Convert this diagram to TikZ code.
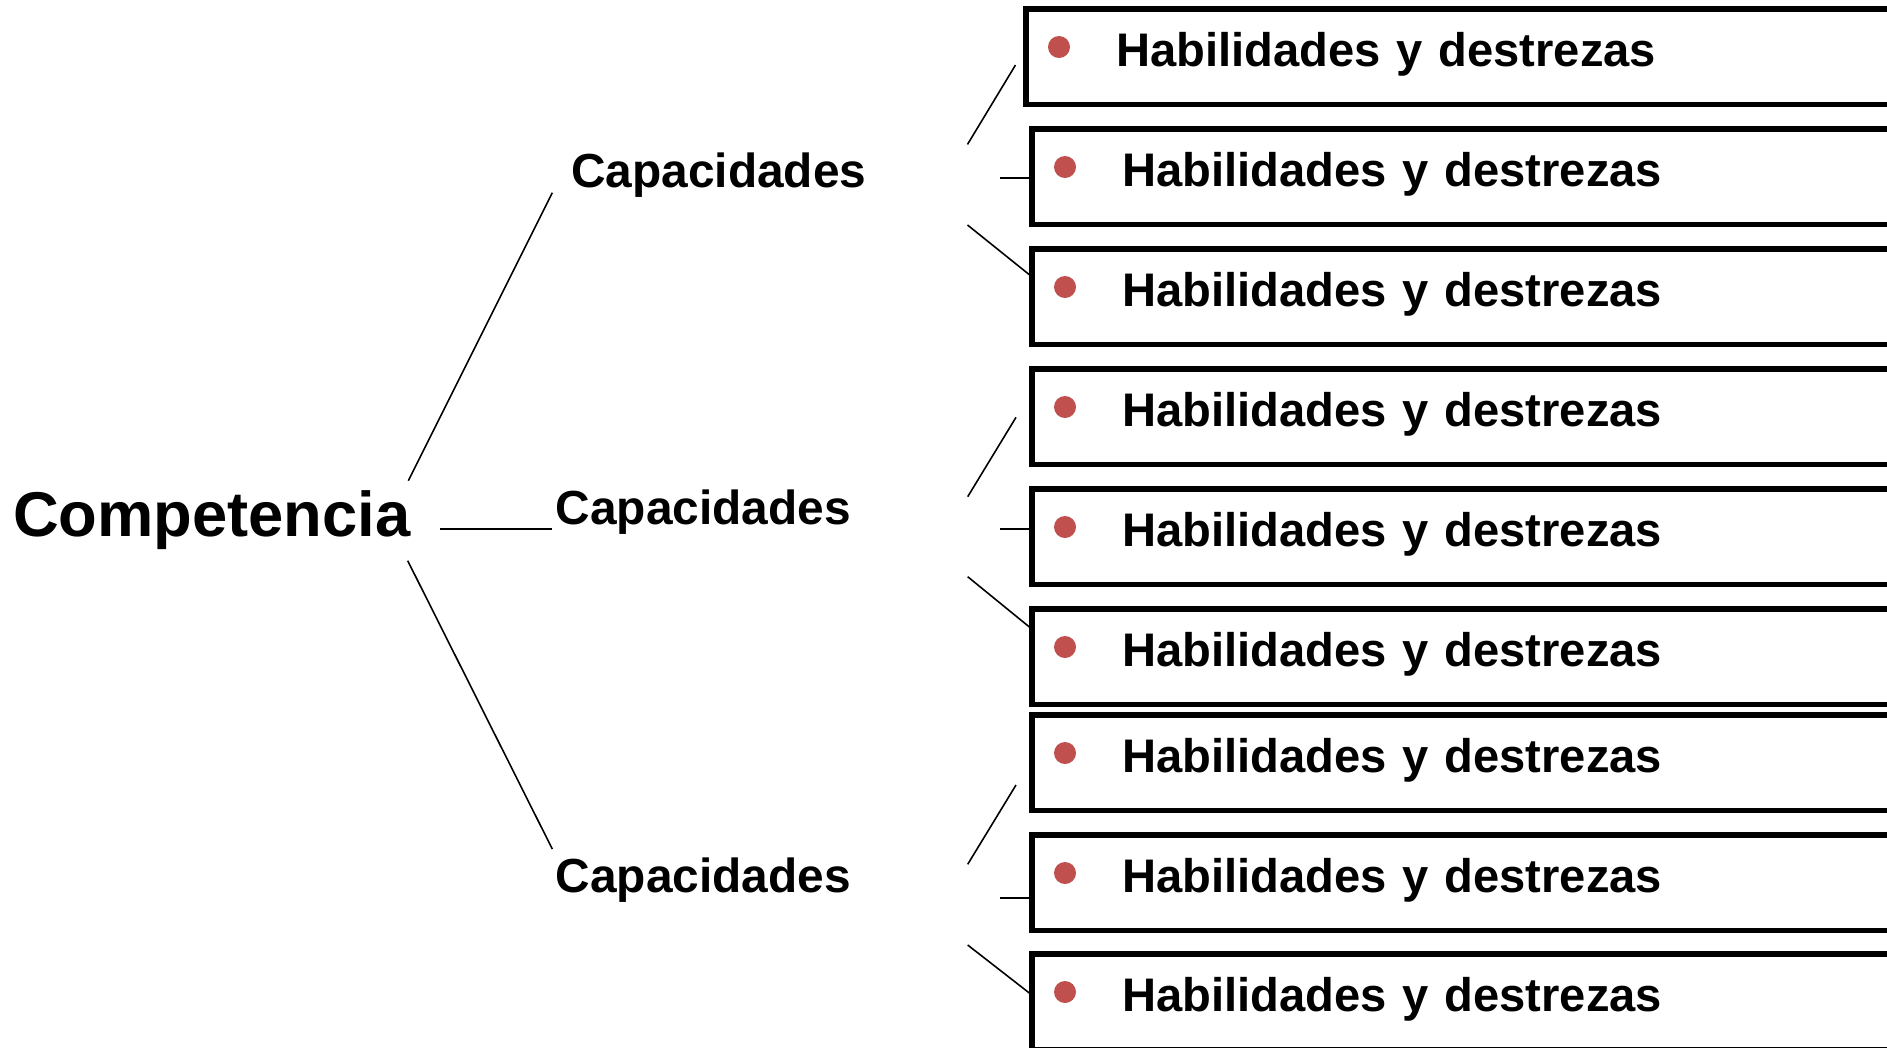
\documentclass[tikz,border=0pt]{standalone}
\usepackage{fontspec}
\setmainfont{Liberation Sans}
\usetikzlibrary{calc}
\definecolor{bulletred}{HTML}{C0504D}
\tikzset{
  link/.style={line width=0.45pt},
  complabel/.style={anchor=base west, inner sep=0pt, font=\fontsize{18pt}{21pt}\selectfont\bfseries},
  caplabel/.style={anchor=base west, inner sep=0pt, font=\fontsize{13.6pt}{16pt}\selectfont\bfseries},
  habbox/.style={draw, line width=1.45pt, anchor=north west, outer sep=0pt,
    inner ysep=0pt, inner xsep=0.905cm, minimum height=0.95cm,
    text width=7.5cm, align=left, text height=0.34cm, text depth=0.136cm,
    font=\fontsize{13.4pt}{16pt}\selectfont\bfseries,
    path picture={\fill[bulletred] ($(path picture bounding box.north west)+(33,38)$) circle (11);}}
}
\begin{document}
\begin{tikzpicture}[x=0.01cm, y=-0.01cm]
			%%%%% FRAME %%%%%
			\useasboundingbox (0,0) rectangle (1887,1047);
			\clip (0,0) rectangle (1887,1047);
			
			%%%%% LABELS %%%%%
			\node[complabel] (comp) at (12.5,536) {Competencia};
			\node[caplabel] (cap1) at (570.5,187) {Capacidades};
			\node[caplabel] (cap2) at (555,524.5) {Capacidades};
			\node[caplabel] (cap3) at (555,892.5) {Capacidades};
			
			%%%%% BOXES %%%%%
			\node[habbox] (hab1) at (1026,9) {Habilidades y destrezas};
			\node[habbox] (hab2) at (1032,129) {Habilidades y destrezas};
			\node[habbox] (hab3) at (1032,249) {Habilidades y destrezas};
			
			\node[habbox] (hab4) at (1032,369) {Habilidades y destrezas};
			\node[habbox] (hab5) at (1032,489) {Habilidades y destrezas};
			\node[habbox] (hab6) at (1032,609) {Habilidades y destrezas};
			
			\node[habbox] (hab7) at (1032,715) {Habilidades y destrezas};
			\node[habbox] (hab8) at (1032,835) {Habilidades y destrezas};
			\node[habbox] (hab9) at (1032,954) {Habilidades y destrezas};
			
			%%%%% COMPETENCIA -> CAPACIDADES %%%%%
			\coordinate (comp-n) at (408.3,480.7);
			\coordinate (comp-e) at (440,529);
			\coordinate (comp-s) at (407.7,560.7);
			\coordinate (cap1-w) at (552.3,192.7);
			\coordinate (cap2-w) at (552.3,529);
			\coordinate (cap3-w) at (552.3,849);
			\draw[link] (comp-n) -- (cap1-w);
			\draw[link] (comp-e) -- (cap2-w);
			\draw[link] (comp-s) -- (cap3-w);
			
			%%%%% CAPACIDADES -> HABILIDADES %%%%%
			\coordinate (cap1-n) at (967.5,144.4);
			\coordinate (cap1-e) at (1000,177.7);
			\coordinate (cap1-s) at (967.5,225);
			\coordinate (hab1-in) at (1015.5,65);
			\coordinate (hab3-in) at (1031,276);
			\draw[link] (cap1-n) -- (hab1-in);
			\draw[link] (cap1-e) -- (cap1-e -| hab2.west);
			\draw[link] (cap1-s) -- (hab3-in);
			
			\coordinate (cap2-n) at (967.7,496.7);
			\coordinate (cap2-e) at (1000,529);
			\coordinate (cap2-s) at (967.7,576.7);
			\coordinate (hab4-in) at (1016,417.3);
			\coordinate (hab6-in) at (1031,628.3);
			\draw[link] (cap2-n) -- (hab4-in);
			\draw[link] (cap2-e) -- (cap2-e -| hab5.west);
			\draw[link] (cap2-s) -- (hab6-in);
			
			\coordinate (cap3-n) at (967.7,864.3);
			\coordinate (cap3-e) at (1000,898);
			\coordinate (cap3-s) at (967.7,945);
			\coordinate (hab7-in) at (1016,785);
			\coordinate (hab9-in) at (1031,994.3);
			\draw[link] (cap3-n) -- (hab7-in);
			\draw[link] (cap3-e) -- (cap3-e -| hab8.west);
			\draw[link] (cap3-s) -- (hab9-in);
\end{tikzpicture}
\end{document}
